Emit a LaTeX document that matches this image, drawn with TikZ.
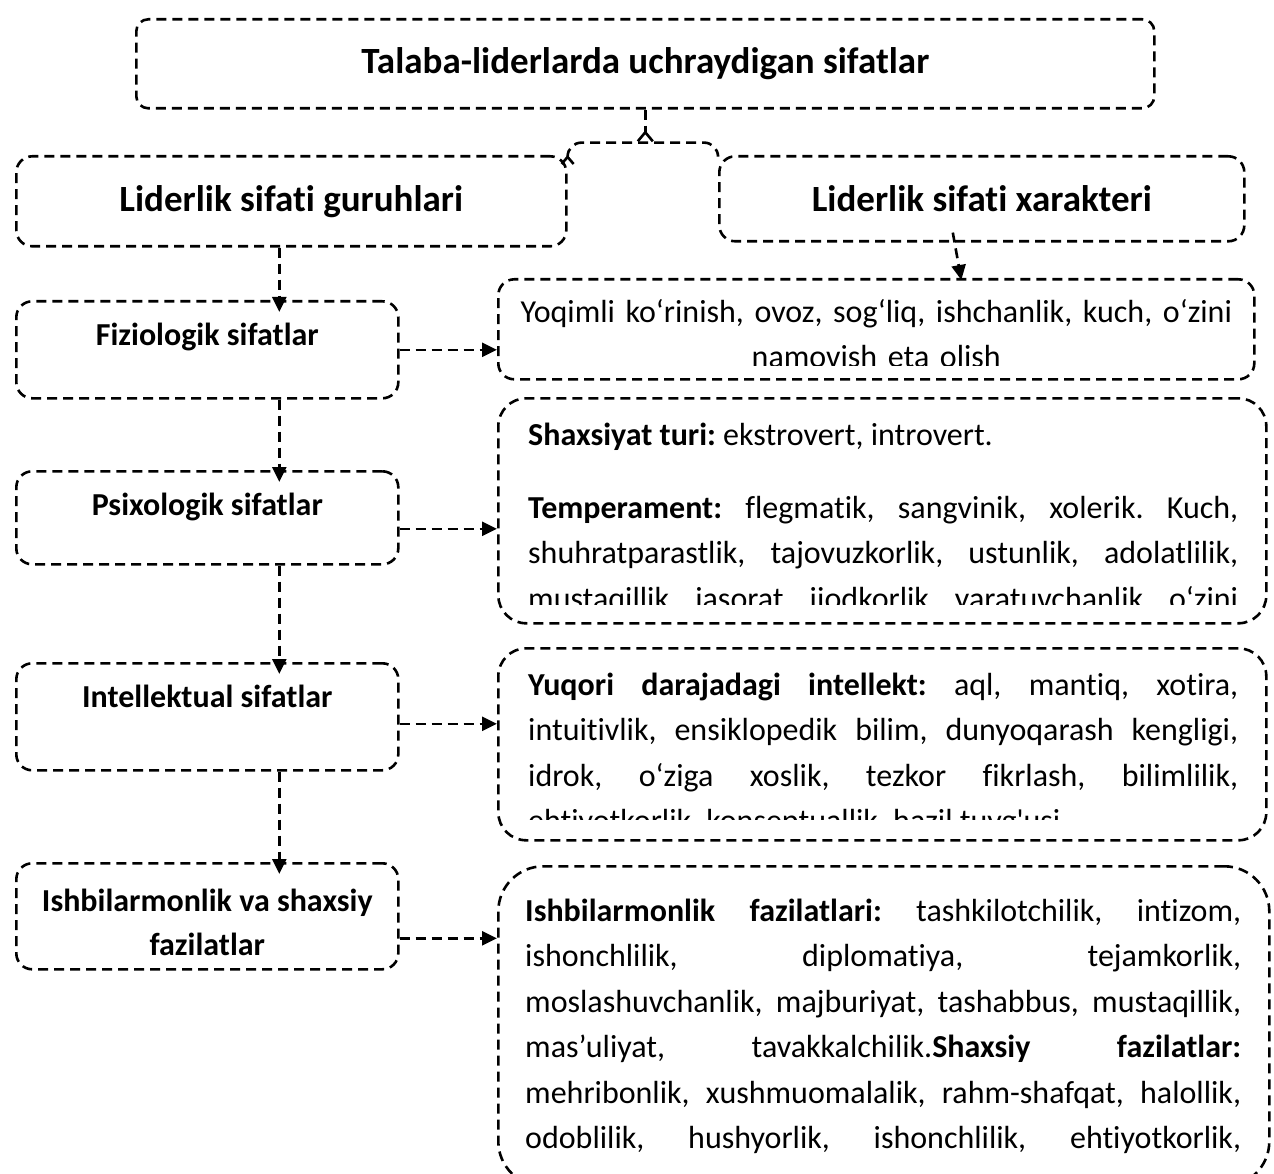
\documentclass[tikz,border=0pt]{standalone}
\usepackage{fontspec}
\setmainfont{Carlito}[Ligatures=TeXOff, RawFeature=-liga, RawFeature=-calt, RawFeature=-clig]
\usetikzlibrary{arrows.meta}
\setlength{\parindent}{0pt}
\frenchspacing
\hyphenpenalty=10000
\exhyphenpenalty=10000
\tolerance=10000
\hbadness=10000
\newcommand{\hdfont}{\fontsize{37}{44}\selectfont\bfseries}
\newcommand{\lblfont}{\fontsize{32}{44}\selectfont\bfseries}
\newcommand{\txtfont}{\fontsize{32}{45.5}\selectfont}
\tikzset {
    >={Triangle[length=15pt, width=14pt]},
    dline/.style={line width=2.6pt, dash pattern=on 10pt off 6pt},
    box/.style={draw, dline, rounded corners=16pt, anchor=north west, inner sep=0pt},
    lbl/.style={anchor=north, inner sep=0pt, align=center, font=\lblfont},
    txt/.style={anchor=north west, inner sep=0pt, text width=710pt, align=justify, font=\txtfont},
    arr/.style={dline, ->},
    varr/.style={arr, shorten >=-12pt}
}

\begin{document}
\begin{tikzpicture}[x=1pt, y=-1pt]
    \useasboundingbox (0,0) rectangle (1274,1174);

    \node[box, minimum width=1018pt, minimum height=89pt, rounded corners=12pt, font=\hdfont] (talaba) at (135,18) {Talaba-liderlarda uchraydigan sifatlar};
    \node[box, minimum width=550pt, minimum height=90pt, font=\hdfont] (guruh) at (15,155) {Liderlik sifati guruhlari};
    \node[box, minimum width=525pt, minimum height=85pt, font=\hdfont] (xarakter) at (718,155) {Liderlik sifati xarakteri};
    \coordinate (split) at ([yshift=-33pt]talaba.south);

    % guruhlar
    \node[box, minimum width=382pt, minimum height=97pt] (fizio) at (15,300) {};
    \node[box, minimum width=382pt, minimum height=93pt] (psixo) at (15,470) {};
    \node[box, minimum width=382pt, minimum height=107pt] (intel) at (15,662) {};
    \node[box, minimum width=382pt, minimum height=106pt] (ishbil) at (15,862) {};
    \node[lbl] (fizio-t) at ([yshift=-14pt]fizio.north) {\strut Fiziologik sifatlar};
    \node[lbl] (psixo-t) at ([yshift=-14pt]psixo.north) {\strut Psixologik sifatlar};
    \node[lbl] (intel-t) at ([yshift=-14pt]intel.north) {\strut Intellektual sifatlar};
    \node[lbl] (ishbil-t) at ([yshift=-18pt]ishbil.north) {\strut Ishbilarmonlik va shaxsiy\\fazilatlar};

    % xarakterlar
    \node[box, minimum width=756pt, minimum height=100pt] (yoqimli) at (497,278) {};
    \node[box, minimum width=768pt, minimum height=225pt, rounded corners=28pt] (shaxs) at (497,397) {};
    \node[box, minimum width=768pt, minimum height=192pt, rounded corners=28pt] (intellekt) at (497,647) {};
    \node[box, minimum width=771pt, minimum height=320pt, rounded corners=45pt] (fazilat) at (497,865) {};

    \begin{scope}
        \clip (yoqimli.north west) rectangle ([yshift=15pt]yoqimli.south east);
        \node[txt, text width=750pt, anchor=north, align=center] (yoqimli-t) at ([yshift=-12pt]yoqimli.north)
            {\strut Yoqimli ko‘rinish, ovoz, sog‘liq, ishchanlik, kuch, o‘zini\\namovish eta olish};
    \end{scope}
    \begin{scope}
        \clip (shaxs.north west) rectangle ([yshift=20pt]shaxs.south east);
        \node[txt] (shaxs-t) at ([xshift=31pt, yshift=-16pt]shaxs.north west) {\strut\textbf{Shaxsiyat turi:} ekstrovert, introvert.\par
            \vspace{27.5pt}\textbf{Temperament:} flegmatik, sangvinik, xolerik. Kuch,\linebreak
            shuhratparastlik, tajovuzkorlik, ustunlik, adolatlilik,\linebreak
            mustaqillik, jasorat, ijodkorlik, yaratuvchanlik, o‘zini\linebreak
        };
    \end{scope}
    \begin{scope}
        \clip (intellekt.north west) rectangle ([yshift=22pt]intellekt.south east);
        \node[txt] (intellekt-t) at ([xshift=31pt, yshift=-16pt]intellekt.north west) {\strut\textbf{Yuqori darajadagi intellekt:} aql, mantiq, xotira,\linebreak
            intuitivlik, ensiklopedik bilim, dunyoqarash kengligi,\linebreak
            idrok, o‘ziga xoslik, tezkor fikrlash, bilimlilik,\linebreak
            ehtiyotkorlik, konseptuallik, hazil tuyg'usi
        };
    \end{scope}
    \node[txt, text width=716pt] (fazilat-t) at ([xshift=28pt, yshift=-24pt]fazilat.north west) {\strut\textbf{Ishbilarmonlik fazilatlari:} tashkilotchilik, intizom,\linebreak
        ishonchlilik, diplomatiya, tejamkorlik,\linebreak
        moslashuvchanlik, majburiyat, tashabbus, mustaqillik,\linebreak
        mas’uliyat, tavakkalchilik.\textbf{Shaxsiy fazilatlar:}\linebreak
        mehribonlik, xushmuomalalik, rahm-shafqat, halollik,\linebreak
        odoblilik, hushyorlik, ishonchlilik, ehtiyotkorlik,\linebreak
    };

    \draw[dline, -{Straight Barb[reversed, length=9pt, width=15pt]}] (talaba) -- (split);
    \draw[dline, rounded corners=14pt, {Straight Barb[length=7pt, width=12pt]}-] (guruh.north east) |- (split) -| (xarakter.north west);

    \draw[varr] ([xshift=-12pt]guruh.south) -- ([xshift=72pt]fizio.north);
    \draw[varr] ([xshift=72pt]fizio.south) -- ([xshift=72pt]psixo.north);
    \draw[varr] ([xshift=72pt]psixo.south) -- ([xshift=72pt]intel.north);
    \draw[varr] ([xshift=72pt]intel.south) -- ([xshift=72pt]ishbil.north);
    \draw[arr] ([xshift=-29pt, yshift=10pt]xarakter.south) -- ([xshift=85pt, yshift=-2pt]yoqimli.north);

    \draw[arr] (fizio.east) -- (fizio.east -| yoqimli.west);
    \draw[arr] ([yshift=-11pt]psixo.east) -- ([yshift=-11pt]psixo.east -| shaxs.west);
    \draw[arr] ([yshift=-7pt]intel.east) -- ([yshift=-7pt]intel.east -| intellekt.west);
    \draw[arr] ([yshift=-22pt]ishbil.east) -- ([yshift=-22pt]ishbil.east -| fazilat.west);
\end{tikzpicture}
\end{document}
